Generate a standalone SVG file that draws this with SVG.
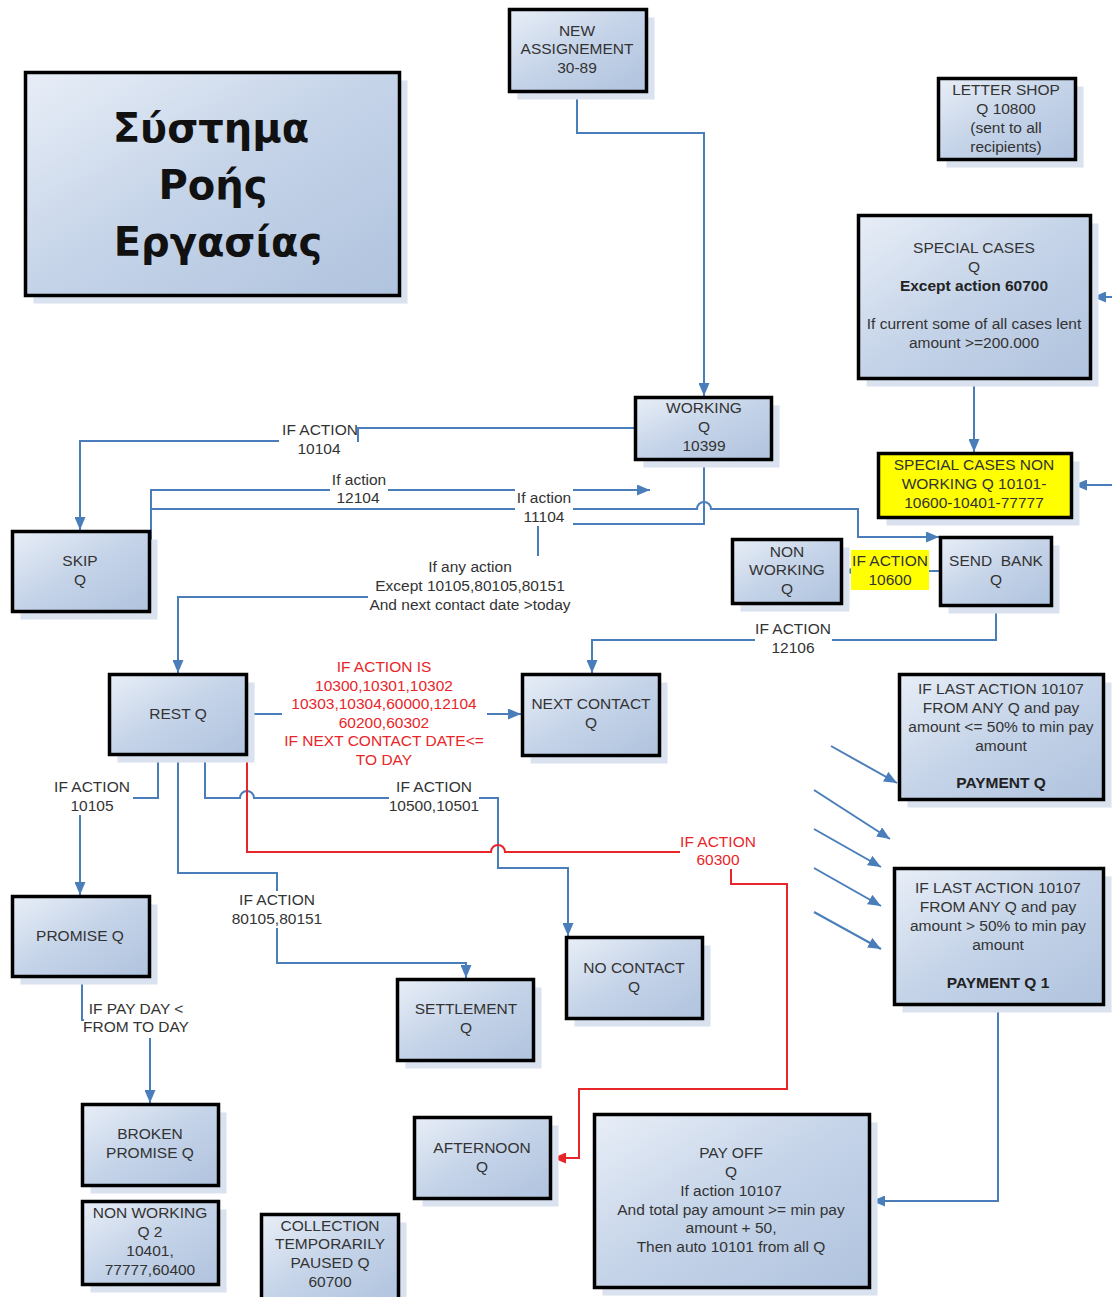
<svg xmlns="http://www.w3.org/2000/svg" width="1112" height="1297" viewBox="0 0 1112 1297">
  <style>
    .sh { fill: #d9e2ee; }
    .bx { fill: url(#fillBlue); stroke: #000; stroke-width: 3.5; }
    .yl { fill: #ffff00; stroke: #000; stroke-width: 3.5; }
    text { font-family: "Liberation Sans", Arial, sans-serif; font-size: 15.5px; fill: #333; text-anchor: middle; }
    .b { font-weight: bold; fill: #222; }
    .red { fill: #e8262a; }
    .title { font-family: "DejaVu Sans", Verdana, sans-serif; font-size: 40px; font-weight: bold; fill: #111; }
    .ln { fill: none; stroke: #4a7ebb; stroke-width: 2; }
    .lr { fill: none; stroke: #e8262a; stroke-width: 2; }
    .arr { marker-end: url(#ab); }
    .arrR { marker-end: url(#ar); }
    .lb { fill: #fff; }
    .ly { fill: #ffff00; }
  </style>
  <defs>
    <linearGradient id="fillBlue" x1="0" y1="0" x2="1" y2="1">
      <stop offset="0" stop-color="#e8eef7"/>
      <stop offset="0.5" stop-color="#c4d3e8"/>
      <stop offset="1" stop-color="#b0c3de"/>
    </linearGradient>
    <marker id="ab" viewBox="0 0 13 11" refX="13" refY="5.5" markerWidth="13" markerHeight="11" markerUnits="userSpaceOnUse" orient="auto">
      <path d="M0,0 L13,5.5 L0,11 z" fill="#4a7ebb"/>
    </marker>
    <marker id="ar" viewBox="0 0 13 11" refX="13" refY="5.5" markerWidth="13" markerHeight="11" markerUnits="userSpaceOnUse" orient="auto">
      <path d="M0,0 L13,5.5 L0,11 z" fill="#e8262a"/>
    </marker>
  </defs>

  <rect width="1112" height="1297" fill="#fff"/>

  <!-- connectors -->
  <g id="connectors">
    <path class="ln arr" d="M577,93 V133 H704 V396"/>
    <path class="ln arr" d="M974,380 V452"/>
    <path class="ln arr" d="M1112,297 H1093"/>
    <path class="ln arr" d="M1112,485 H1074"/>
    <path class="ln arr" d="M634,428 H358 V441 H80 V530"/>
    <path class="ln arr" d="M151,573 V490 H650"/>
    <path class="ln arr" d="M151,509 H697 A7,7 0 0 1 711,509 H858 V537 H939"/>
    <path class="ln arr" d="M704,461 V524 H538 V597 H178 V673"/>
    <path class="ln arr" d="M939,571 H844"/>
    <path class="ln arr" d="M996,607 V640 H592 V673"/>
    <path class="ln arr" d="M248,714 H521"/>
    <path class="ln arr" d="M158,756 V798 H80 V895"/>
    <path class="ln arr" d="M205,756 V798 H240 A7,7 0 0 1 254,798 H498 V868 H568 V936"/>
    <path class="ln arr" d="M178,756 V873 H277 V963 H466 V978"/>
    <path class="ln arr" d="M82,978 V1020 H150 V1103"/>
    <path class="ln arr" d="M998,1006 V1201 H872"/>
    <path class="ln arr" d="M831,746 L897,783"/>
    <path class="ln arr" d="M814,790 L890,839"/>
    <path class="ln arr" d="M814,829 L881,867"/>
    <path class="ln arr" d="M814,868 L881,906"/>
    <path class="ln arr" d="M814,912 L881,949"/>
    <path class="lr arrR" d="M247,714 V852 H491 A7,7 0 0 1 505,852 H731 V884 H787 V1089 H579 V1158 H553"/>

    <!-- connector labels -->
    <rect class="lb" x="279" y="420" width="78" height="38"/>
    <text x="320" y="435">IF ACTION</text>
    <text x="319" y="454">10104</text>

    <rect class="lb" x="330" y="471" width="58" height="34"/>
    <text x="359" y="485">If action</text>
    <text x="358" y="503">12104</text>

    <rect class="lb" x="515" y="488" width="58" height="38"/>
    <text x="544" y="503">If action</text>
    <text x="544" y="522">11104</text>

    <rect class="lb" x="368" y="556" width="205" height="58"/>
    <text x="470" y="572">If any action</text>
    <text x="470" y="591">Except 10105,80105,80151</text>
    <text x="470" y="610">And next contact date &gt;today</text>

    <rect class="ly" x="851" y="550" width="78" height="40"/>
    <text x="890" y="566">IF ACTION</text>
    <text x="890" y="585">10600</text>

    <rect class="lb" x="755" y="620" width="77" height="37"/>
    <text x="793" y="634">IF ACTION</text>
    <text x="793" y="653">12106</text>

    <rect class="lb" x="282" y="657" width="205" height="112"/>
    <text class="red" x="384" y="672">IF ACTION IS</text>
    <text class="red" x="384" y="691">10300,10301,10302</text>
    <text class="red" x="384" y="709">10303,10304,60000,12104</text>
    <text class="red" x="384" y="728">60200,60302</text>
    <text class="red" x="384" y="746">IF NEXT CONTACT DATE&lt;=</text>
    <text class="red" x="384" y="765">TO DAY</text>

    <rect class="lb" x="53" y="778" width="80" height="37"/>
    <text x="92" y="792">IF ACTION</text>
    <text x="92" y="811">10105</text>

    <rect class="lb" x="389" y="778" width="90" height="37"/>
    <text x="434" y="792">IF ACTION</text>
    <text x="434" y="811">10500,10501</text>

    <rect class="lb" x="680" y="833" width="77" height="36"/>
    <text class="red" x="718" y="847">IF ACTION</text>
    <text class="red" x="718" y="865">60300</text>

    <rect class="lb" x="230" y="891" width="93" height="37"/>
    <text x="277" y="905">IF ACTION</text>
    <text x="277" y="924">80105,80151</text>

    <rect class="lb" x="84" y="1000" width="106" height="38"/>
    <text x="136" y="1014">IF PAY DAY &lt;</text>
    <text x="136" y="1032">FROM TO DAY</text>
  </g>

  <!-- nodes -->
  <g id="title">
    <rect class="sh" x="33.5" y="80.5" width="374" height="223"/>
    <rect class="bx" x="25.5" y="72.5" width="374" height="223"/>
    <text class="title" x="211" y="142">Σύστημα</text>
    <text class="title" x="213" y="199">Ροής</text>
    <text class="title" x="218" y="256">Εργασίας</text>
  </g>

  <g id="new-assignement">
    <rect class="sh" x="517.5" y="17.5" width="137" height="82"/>
    <rect class="bx" x="509.5" y="9.5" width="137" height="82"/>
    <text x="577" y="36">NEW</text>
    <text x="577" y="54">ASSIGNEMENT</text>
    <text x="577" y="73">30-89</text>
  </g>

  <g id="letter-shop">
    <rect class="sh" x="946.5" y="86.5" width="137" height="81"/>
    <rect class="bx" x="938.5" y="78.5" width="137" height="81"/>
    <text x="1006" y="95">LETTER SHOP</text>
    <text x="1006" y="114">Q 10800</text>
    <text x="1006" y="133">(sent to all</text>
    <text x="1006" y="152">recipients)</text>
  </g>

  <g id="special-cases">
    <rect class="sh" x="866.5" y="223.5" width="232" height="163"/>
    <rect class="bx" x="858.5" y="215.5" width="232" height="163"/>
    <text x="974" y="253">SPECIAL CASES</text>
    <text x="974" y="272">Q</text>
    <text class="b" x="974" y="291">Except action 60700</text>
    <text x="974" y="329">If current some of all cases lent</text>
    <text x="974" y="348">amount &gt;=200.000</text>
  </g>

  <g id="special-cases-non-working">
    <rect class="sh" x="886.5" y="461.5" width="193" height="64"/>
    <rect class="yl" x="878.5" y="453.5" width="193" height="64"/>
    <text x="974" y="470">SPECIAL CASES NON</text>
    <text x="974" y="489">WORKING Q 10101-</text>
    <text x="974" y="508">10600-10401-77777</text>
  </g>

  <g id="working">
    <rect class="sh" x="643.5" y="405.5" width="136" height="62"/>
    <rect class="bx" x="635.5" y="397.5" width="136" height="62"/>
    <text x="704" y="413">WORKING</text>
    <text x="704" y="432">Q</text>
    <text x="704" y="451">10399</text>
  </g>

  <g id="skip">
    <rect class="sh" x="20.5" y="539.5" width="137" height="80"/>
    <rect class="bx" x="12.5" y="531.5" width="137" height="80"/>
    <text x="80" y="566">SKIP</text>
    <text x="80" y="585">Q</text>
  </g>

  <g id="non-working">
    <rect class="sh" x="740.5" y="547.5" width="109" height="64"/>
    <rect class="bx" x="732.5" y="539.5" width="109" height="64"/>
    <text x="787" y="557">NON</text>
    <text x="787" y="575">WORKING</text>
    <text x="787" y="594">Q</text>
  </g>

  <g id="send-bank">
    <rect class="sh" x="948.5" y="545.5" width="111" height="68"/>
    <rect class="bx" x="940.5" y="537.5" width="111" height="68"/>
    <text x="996" y="566" xml:space="preserve">SEND  BANK</text>
    <text x="996" y="585">Q</text>
  </g>

  <g id="rest">
    <rect class="sh" x="117.5" y="682.5" width="137" height="80"/>
    <rect class="bx" x="109.5" y="674.5" width="137" height="80"/>
    <text x="178" y="719">REST Q</text>
  </g>

  <g id="next-contact">
    <rect class="sh" x="530.5" y="682.5" width="137" height="81"/>
    <rect class="bx" x="522.5" y="674.5" width="137" height="81"/>
    <text x="591" y="709">NEXT CONTACT</text>
    <text x="591" y="728">Q</text>
  </g>

  <g id="payment">
    <rect class="sh" x="907.5" y="682.5" width="204" height="125"/>
    <rect class="bx" x="899.5" y="674.5" width="204" height="125"/>
    <text x="1001" y="694">IF LAST ACTION 10107</text>
    <text x="1001" y="713">FROM ANY Q and pay</text>
    <text x="1001" y="732">amount &lt;= 50% to min pay</text>
    <text x="1001" y="751">amount</text>
    <text class="b" x="1001" y="788">PAYMENT Q</text>
  </g>

  <g id="promise">
    <rect class="sh" x="20.5" y="904.5" width="137" height="80"/>
    <rect class="bx" x="12.5" y="896.5" width="137" height="80"/>
    <text x="80" y="941">PROMISE Q</text>
  </g>

  <g id="payment-1">
    <rect class="sh" x="902.5" y="876.5" width="209" height="136"/>
    <rect class="bx" x="894.5" y="868.5" width="209" height="136"/>
    <text x="998" y="893">IF LAST ACTION 10107</text>
    <text x="998" y="912">FROM ANY Q and pay</text>
    <text x="998" y="931">amount &gt; 50% to min pay</text>
    <text x="998" y="950">amount</text>
    <text class="b" x="998" y="988">PAYMENT Q 1</text>
  </g>

  <g id="settlement">
    <rect class="sh" x="405.5" y="987.5" width="136" height="81"/>
    <rect class="bx" x="397.5" y="979.5" width="136" height="81"/>
    <text x="466" y="1014">SETTLEMENT</text>
    <text x="466" y="1033">Q</text>
  </g>

  <g id="no-contact">
    <rect class="sh" x="574.5" y="945.5" width="136" height="81"/>
    <rect class="bx" x="566.5" y="937.5" width="136" height="81"/>
    <text x="634" y="973">NO CONTACT</text>
    <text x="634" y="992">Q</text>
  </g>

  <g id="broken-promise">
    <rect class="sh" x="90.5" y="1112.5" width="136" height="81"/>
    <rect class="bx" x="82.5" y="1104.5" width="136" height="81"/>
    <text x="150" y="1139">BROKEN</text>
    <text x="150" y="1158">PROMISE Q</text>
  </g>

  <g id="non-working-2">
    <rect class="sh" x="90.5" y="1209.5" width="136" height="83"/>
    <rect class="bx" x="82.5" y="1201.5" width="136" height="83"/>
    <text x="150" y="1218">NON WORKING</text>
    <text x="150" y="1237">Q 2</text>
    <text x="150" y="1256">10401,</text>
    <text x="150" y="1275">77777,60400</text>
  </g>

  <g id="collection-paused">
    <rect class="sh" x="269.5" y="1222.5" width="137" height="90"/>
    <rect class="bx" x="261.5" y="1214.5" width="137" height="90"/>
    <text x="330" y="1231">COLLECTION</text>
    <text x="330" y="1249">TEMPORARILY</text>
    <text x="330" y="1268">PAUSED Q</text>
    <text x="330" y="1287">60700</text>
  </g>

  <g id="afternoon">
    <rect class="sh" x="422.5" y="1125.5" width="136" height="81"/>
    <rect class="bx" x="414.5" y="1117.5" width="136" height="81"/>
    <text x="482" y="1153">AFTERNOON</text>
    <text x="482" y="1172">Q</text>
  </g>

  <g id="pay-off">
    <rect class="sh" x="602.5" y="1122.5" width="275" height="173"/>
    <rect class="bx" x="594.5" y="1114.5" width="275" height="173"/>
    <text x="731" y="1158">PAY OFF</text>
    <text x="731" y="1177">Q</text>
    <text x="731" y="1196">If action 10107</text>
    <text x="731" y="1215">And total pay amount &gt;= min pay</text>
    <text x="731" y="1233">amount + 50,</text>
    <text x="731" y="1252">Then auto 10101 from all Q</text>
  </g>
</svg>
